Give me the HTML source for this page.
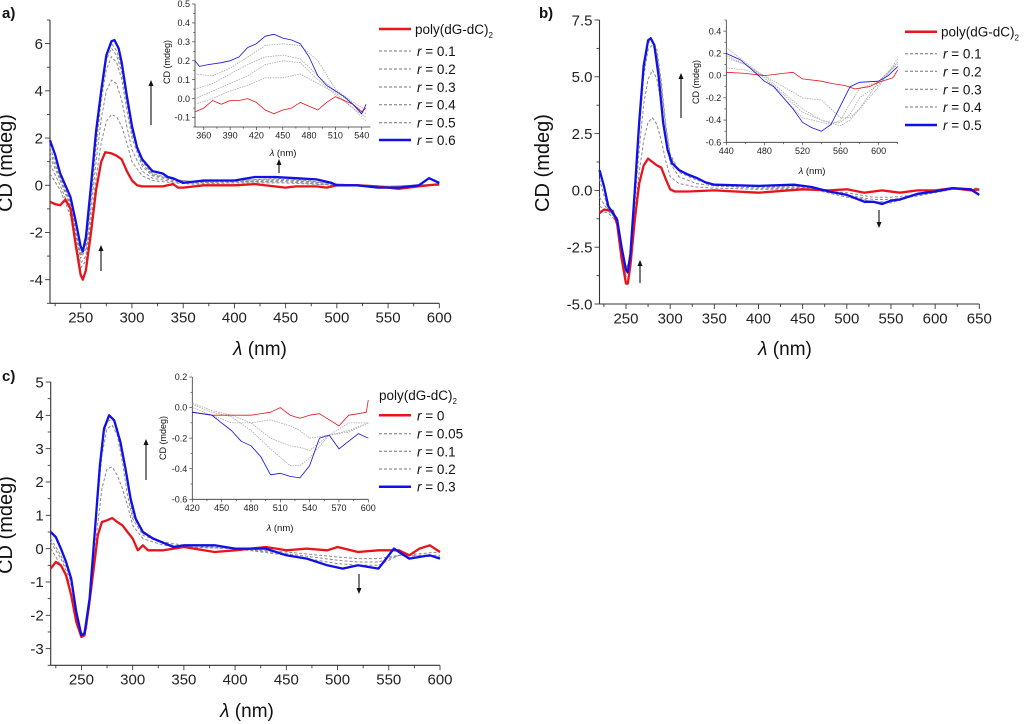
<!DOCTYPE html>
<html><head><meta charset="utf-8"><style>
html,body{margin:0;padding:0;background:#fff}
svg{display:block;font-family:"Liberation Sans",sans-serif}
</style></head><body>
<svg id="fig" width="1024" height="724" viewBox="0 0 1024 724" xmlns="http://www.w3.org/2000/svg"></svg>
<script>
// ===== Panel a data =====
const aRedWl=[220,225,230,235,240,245,250,252,255,260,265,270,274,280,285,290,295,300,305,310,330,340,345,350,370,400,420,450,460,480,490,500,520,540,560,580,600];
const aRedCd=[-0.7,-0.8,-0.85,-0.6,-1.0,-2.5,-3.8,-4.0,-3.6,-2.0,-0.2,1.0,1.4,1.35,1.25,1.1,0.6,0.2,0.0,-0.05,-0.05,0.05,-0.1,-0.1,0,0,0.05,-0.1,-0.05,-0.05,-0.1,0,0,-0.05,-0.15,-0.05,0.05];
const aBlueWl=[220,225,230,235,240,245,250,252,255,260,265,270,275,280,283,287,290,295,300,305,310,320,330,335,340,350,370,400,420,440,460,480,495,500,520,540,560,580,590,600];
const aBlueCd=[1.9,1.3,0.5,0.0,-0.5,-1.5,-2.6,-2.8,-2.2,0,2.3,4.0,5.5,6.1,6.15,5.8,5.2,3.8,2.5,1.6,1.1,0.6,0.5,0.35,0.3,0.1,0.2,0.2,0.35,0.35,0.3,0.25,0.1,0,0,-0.1,-0.1,0,0.3,0.1];
const aGrayWl=[220,230,240,245,250,255,260,265,270,275,280,285,290,295,300,310,320,340,360,400,450,500,550,600];
const aGray1=[0.5,-0.2,-1.3,-2.6,-3.5,-3.2,-1.5,0.3,1.8,2.7,3.0,2.9,2.5,1.8,1.0,0.4,0.2,0.1,0.05,0.1,0.1,0.0,-0.05,0.0];
const aGray2=[0.9,0.0,-1.1,-2.4,-3.3,-3.0,-1.0,1.0,2.8,4.0,4.45,4.3,3.6,2.5,1.5,0.6,0.3,0.15,0.1,0.15,0.15,0.0,-0.05,0.0];
const aGray3=[1.2,0.2,-0.9,-2.2,-3.1,-2.7,-0.6,1.6,3.6,4.9,5.45,5.2,4.5,3.2,2.0,0.8,0.4,0.2,0.1,0.15,0.2,0.05,-0.05,0.0];
const aGray4=[1.4,0.3,-0.8,-2.0,-3.0,-2.5,-0.3,2.0,3.9,5.3,5.8,5.5,4.8,3.5,2.2,0.9,0.45,0.25,0.15,0.2,0.25,0.05,-0.05,0.05];
const aGray5=[1.6,0.4,-0.7,-1.9,-2.9,-2.4,-0.2,2.2,4.0,5.5,6.0,5.7,5.0,3.6,2.3,1.0,0.5,0.25,0.15,0.2,0.3,0.05,-0.05,0.05];
const aInRedWl=[350,360,370,380,390,400,410,420,430,440,450,460,470,480,490,500,510,520,530,540,545];
const aInRedCd=[-0.07,-0.05,-0.01,-0.03,-0.01,-0.01,0.0,-0.02,-0.06,-0.08,-0.06,-0.05,-0.02,-0.04,-0.06,-0.02,0.01,-0.01,-0.03,-0.07,-0.05];
const aInBlueWl=[350,355,365,380,390,400,410,420,430,440,450,460,470,480,490,500,510,520,530,540,545];
const aInBlueCd=[0.2,0.17,0.18,0.19,0.2,0.22,0.27,0.29,0.33,0.34,0.32,0.31,0.29,0.22,0.12,0.07,0.04,0.01,-0.03,-0.08,-0.03];
const aInGrayWl=[350,370,390,410,430,450,470,490,510,530,545];
const aInGray1=[0.13,0.12,0.16,0.22,0.28,0.29,0.28,0.2,0.05,-0.02,-0.06];
const aInGray2=[0.05,0.08,0.13,0.18,0.22,0.23,0.21,0.12,0.04,-0.03,-0.08];
const aInGray3=[0.0,0.04,0.08,0.12,0.18,0.2,0.19,0.1,0.02,-0.05,-0.1];
const aInGray4=[-0.03,0.0,0.04,0.07,0.11,0.11,0.13,0.08,0.03,-0.05,-0.12];
const aLegend=["poly(dG-dC)","0.1","0.2","0.3","0.4","0.5","0.6"];

// ===== Panel b data =====
const bRedWl=[220,225,235,240,245,250,252,255,260,265,270,275,280,285,290,295,300,305,320,350,400,450,480,500,520,540,560,580,600,620,640,650];
const bRedCd=[-1.0,-0.85,-0.9,-1.5,-3.0,-4.1,-4.1,-3.3,-1.3,0.3,1.1,1.4,1.25,1.1,1.0,0.5,0.05,-0.05,-0.05,0,-0.1,0.05,0.0,0.05,-0.1,0.0,-0.1,0.0,0.0,0.1,0,0.05];
const bBlueWl=[220,225,230,237,240,245,250,252,255,260,265,270,275,278,282,287,292,297,302,310,320,330,340,350,400,440,460,480,500,520,530,540,550,560,580,600,620,640,650];
const bBlueCd=[0.9,0.2,-0.7,-1.1,-1.3,-2.5,-3.5,-3.6,-2.8,0.0,3.0,5.5,6.6,6.7,6.4,5.0,3.0,1.8,1.2,0.9,0.7,0.55,0.35,0.25,0.2,0.25,0.15,-0.05,-0.2,-0.5,-0.5,-0.6,-0.45,-0.4,-0.15,-0.05,0.1,0.05,-0.2];
const bGrayWl=[220,230,240,245,250,255,260,265,270,275,280,285,290,295,300,310,330,350,400,450,500,530,550,580,620,650];
const bGray1=[-0.9,-1.0,-1.4,-2.8,-3.8,-3.4,-1.0,0.8,2.2,3.0,3.2,2.9,2.2,1.3,0.6,0.3,0.15,0.1,0.05,0.05,-0.1,-0.3,-0.3,-0.2,0.05,0.1];
const bGray2=[-0.7,-0.9,-1.3,-2.7,-3.7,-3.2,-0.6,1.8,3.8,4.9,5.3,4.9,3.8,2.3,1.2,0.6,0.3,0.2,0.1,0.1,-0.2,-0.4,-0.4,-0.25,0.05,0.1];
const bGray3=[-0.3,-0.9,-1.2,-2.6,-3.6,-3.0,-0.3,2.6,5.0,6.2,6.4,6.0,4.6,2.8,1.5,0.8,0.45,0.25,0.15,0.15,-0.3,-0.5,-0.5,-0.2,0.05,0.05];
const bGray4=[0.5,-0.9,-1.2,-2.5,-3.5,-2.9,-0.1,2.9,5.3,6.5,6.6,6.2,4.8,2.9,1.6,0.85,0.5,0.25,0.2,0.2,-0.2,-0.5,-0.55,-0.2,0.05,0.0];
const bInRedWl=[440,460,480,500,510,520,540,550,565,575,590,600,615,620];
const bInRedCd=[0.03,0.02,0.0,0.02,0.03,-0.03,-0.05,-0.07,-0.09,-0.12,-0.1,-0.06,-0.02,0.05];
const bInBlueWl=[440,455,470,480,490,500,510,520,530,540,550,560,570,580,600,610,620];
const bInBlueCd=[0.2,0.14,0.03,-0.05,-0.1,-0.2,-0.3,-0.42,-0.47,-0.5,-0.44,-0.27,-0.1,-0.06,-0.05,0.0,0.08];
const bInGrayWl=[440,460,480,500,520,540,550,560,570,580,600,620];
const bInGray1=[0.07,0.05,0.0,-0.1,-0.2,-0.22,-0.3,-0.38,-0.38,-0.3,-0.1,0.15];
const bInGray2=[0.16,0.1,-0.02,-0.17,-0.33,-0.4,-0.42,-0.42,-0.35,-0.2,-0.08,0.12];
const bInGray3=[0.25,0.12,-0.02,-0.2,-0.38,-0.42,-0.44,-0.4,-0.25,-0.12,-0.05,0.1];
const bInGray4=[0.18,0.1,0.0,-0.15,-0.3,-0.4,-0.43,-0.45,-0.4,-0.3,-0.05,0.12];
const bLegend=["poly(dG-dC)","0.1","0.2","0.3","0.4","0.5"];

// ===== Panel c data =====
const cRedWl=[220,225,230,235,240,245,250,253,257,262,266,270,275,280,285,290,295,300,305,310,315,330,350,380,400,430,450,470,490,500,520,540,560,570,580,590,600];
const cRedCd=[-0.6,-0.4,-0.5,-0.8,-1.4,-2.2,-2.65,-2.6,-1.8,-0.6,0.4,0.8,0.85,0.92,0.8,0.7,0.5,0.3,-0.05,0.1,-0.05,-0.05,0.05,-0.1,-0.05,0.05,-0.05,0.0,-0.05,0.05,-0.1,-0.05,-0.05,-0.2,0.0,0.1,-0.1];
const cBlueWl=[220,225,230,235,240,245,250,253,258,263,268,272,277,282,288,293,298,303,310,320,340,350,380,400,430,450,470,490,505,520,540,555,570,590,600];
const cBlueCd=[0.5,0.35,0.0,-0.4,-0.9,-1.9,-2.6,-2.55,-1.5,0.5,2.5,3.6,4.0,3.85,3.2,2.4,1.5,0.9,0.5,0.3,0.05,0.1,0.1,0.0,0.0,-0.2,-0.3,-0.5,-0.6,-0.5,-0.6,0.0,-0.3,-0.2,-0.3];
const cGrayWl=[220,230,240,245,250,255,260,265,270,275,280,285,290,295,300,310,330,350,400,450,500,520,540,560,600];
const cGray1=[0.0,-0.5,-1.1,-2.0,-2.6,-2.4,-1.2,0.5,1.8,2.4,2.45,2.2,1.8,1.3,0.7,0.3,0.1,0.05,0.0,-0.1,-0.25,-0.3,-0.3,-0.2,-0.1];
const cGray2=[0.2,-0.3,-1.0,-1.9,-2.6,-2.4,-0.8,1.2,2.8,3.6,3.7,3.4,2.6,1.6,0.9,0.4,0.15,0.05,0.0,-0.15,-0.35,-0.4,-0.4,-0.2,-0.2];
const cGray3=[0.3,-0.2,-0.9,-1.9,-2.6,-2.4,-0.6,1.5,3.2,3.8,3.9,3.6,2.9,1.9,1.0,0.45,0.2,0.1,0.0,-0.2,-0.45,-0.5,-0.5,-0.2,-0.25];
const cInRedWl=[420,440,460,480,500,510,520,530,540,550,560,570,580,590,598,600];
const cInRedCd=[-0.03,-0.05,-0.05,-0.05,-0.03,0.0,-0.05,-0.07,-0.05,-0.04,-0.08,-0.12,-0.05,-0.04,-0.03,0.05];
const cInBlueWl=[420,440,450,460,470,480,490,500,510,520,530,540,550,560,570,580,590,600];
const cInBlueCd=[-0.03,-0.05,-0.1,-0.15,-0.22,-0.25,-0.32,-0.44,-0.43,-0.45,-0.46,-0.38,-0.2,-0.18,-0.27,-0.22,-0.17,-0.2];
const cInGrayWl=[420,440,460,480,500,520,530,540,560,580,600];
const cInGray1=[0.0,-0.05,-0.1,-0.1,-0.08,-0.12,-0.15,-0.2,-0.18,-0.1,-0.1];
const cInGray2=[0.03,-0.02,-0.05,-0.1,-0.2,-0.25,-0.26,-0.28,-0.18,-0.15,-0.1];
const cInGray3=[0.02,-0.03,-0.06,-0.15,-0.27,-0.38,-0.38,-0.33,-0.18,-0.16,-0.1];
const cLegend=["0","0.05","0.1","0.2","0.3"];

const NS="http://www.w3.org/2000/svg";
const svg=document.getElementById('fig');
function mk(tag,attrs,parent){const e=document.createElementNS(NS,tag);for(const k in attrs)e.setAttribute(k,attrs[k]);(parent||svg).appendChild(e);return e;}

function axes(g,o){
  const sx=v=>o.px0+(v-o.xmin)/(o.xmax-o.xmin)*(o.px1-o.px0);
  const sy=v=>o.py1-(v-o.ymin)/(o.ymax-o.ymin)*(o.py1-o.py0);
  const ax=mk('g',{},g);
  
  
  mk('line',{x1:o.px0,y1:o.py0,x2:o.px0,y2:o.py1,stroke:'#333','stroke-width':o.lw},ax);
  mk('line',{x1:o.px0,y1:o.py1,x2:o.px1,y2:o.py1,stroke:'#333','stroke-width':o.lw},ax);
  const xs=o.xlab0-Math.floor((o.xlab0-o.xmin)/o.xminor+1e-9)*o.xminor;
  for(let k=0;;k++){const v=xs+k*o.xminor;if(v>o.xmax+1e-9)break;const x=sx(v);const r=(v-o.xlab0)/o.xmajor;const major=Math.abs(r-Math.round(r))<1e-6;
    mk('line',{x1:x,y1:o.py1,x2:x,y2:o.py1+(major?o.tk:o.tk*0.6),stroke:'#333','stroke-width':o.lw*0.8},ax);
    if(major&&v>=o.xlab0-1e-9){const t=mk('text',{x:x,y:o.py1+o.tk+o.fs*0.95,'font-size':o.fs,'text-anchor':'middle',fill:'#222'},ax);t.textContent=Math.round(v);
      }}
  const ys=o.ylab0-Math.floor((o.ylab0-o.ymin)/o.yminor+1e-9)*o.yminor;
  for(let k=0;;k++){const v=ys+k*o.yminor;if(v>o.ymax+1e-9)break;const y=sy(v);const r=(v-o.ylab0)/o.ymajor;const major=Math.abs(r-Math.round(r))<1e-6;
    mk('line',{x1:o.px0,y1:y,x2:o.px0-(major?o.tk:o.tk*0.6),y2:y,stroke:'#333','stroke-width':o.lw*0.8},ax);
    if(major){const t=mk('text',{x:o.px0-o.tk-2,y:y+o.fs*0.35,'font-size':o.fs,'text-anchor':'end',fill:'#222'},ax);t.textContent=(Math.abs(v)<1e-9?0:v).toFixed(o.ydec);
      }}
  return {sx,sy};
}
function series(g,s,wl,cd,color,w,dash,name){
  let d='';for(let i=0;i<wl.length;i++)d+=(i?'L':'M')+s.sx(wl[i]).toFixed(1)+','+s.sy(cd[i]).toFixed(1);
  const p=mk('path',{d:d,fill:'none',stroke:color,'stroke-width':w,'stroke-linejoin':'round'},g);
  if(dash)p.setAttribute('stroke-dasharray',dash);
  
  
}
function txt(g,x,y,fs,s,anchor,extra){const t=mk('text',Object.assign({x:x,y:y,'font-size':fs,'text-anchor':anchor||'start',fill:'#111'},extra||{}),g);t.innerHTML=s;return t;}
function arrow(g,x,y1,y2,name){
  mk('line',{x1:x,y1:y1,x2:x,y2:y2+(y2<y1?4:-4),stroke:'#111','stroke-width':1.1},g);
  const dir=y2<y1?1:-1;
  const a=mk('polygon',{points:`${x},${y2} ${x-2.5},${y2+6*dir} ${x+2.5},${y2+6*dir}`,fill:'#111'},g);
  
  
}
function legend(g,x,ys,labels){
  for(let i=0;i<labels.length;i++){
    const y=ys[i];let col='#777',w=1,dash='3,2';
    if(i===0){col='#e8141b';w=2.5;dash=null;}
    if(i===labels.length-1){col='#1010e8';w=2.5;dash=null;}
    const e=mk('g',{},g);
    
    
    const l=mk('line',{x1:x,y1:y,x2:x+32,y2:y,stroke:col,'stroke-width':w},e);if(dash)l.setAttribute('stroke-dasharray',dash);
    const lab=labels[i];
    if(lab==='poly(dG-dC)')txt(e,x+36,y+5,13.5,'poly(dG-dC)<tspan font-size="8" dy="4">2</tspan>');
    else txt(e,x+38,y+5,13.5,'<tspan font-style="italic">r</tspan> = '+lab);
  }
}
function panelTitles(g,yx,yy,xx,xy,lab,lx,ly){
  const t=txt(g,yx,yy,20,'CD (mdeg)','middle',{transform:`rotate(-90 ${yx} ${yy})`});
  
  const x=txt(g,xx,xy,19,'<tspan font-style="italic">λ</tspan> (nm)','middle');
  
  const p=txt(g,lx,ly,15,lab,'start',{'font-weight':'bold'});
  
}
const RED='#e8141b',BLUE='#1010e8',GRAY='#8a8a8a',LGRAY='#aaa';

// ---------- Panel a ----------
{
const g=mk('g',{});
const s=axes(g,{name:'main-a',px0:50,px1:439.3,py0:20,py1:303.3,xmin:220,xmax:600,ymin:-5,ymax:7,xminor:25,xmajor:50,xlab0:250,yminor:1,ymajor:2,ylab0:-4,ydec:0,tk:5,fs:15,lw:1.1});
[aGray1,aGray2,aGray3,aGray4,aGray5].forEach(a=>series(g,s,aGrayWl,a,GRAY,1,'3,2','gray-series'));
series(g,s,aRedWl,aRedCd,RED,2.3,null,'red-series');
series(g,s,aBlueWl,aBlueCd,BLUE,2.3,null,'blue-series');
const si=axes(g,{name:'inset-a',px0:195,px1:370.5,py0:4,py1:127,xmin:350,xmax:550,ymin:-0.15,ymax:0.5,xminor:15,xmajor:30,xlab0:360,yminor:0.05,ymajor:0.1,ylab0:-0.1,ydec:1,tk:3,fs:9,lw:0.8});
[aInGray1,aInGray2,aInGray3,aInGray4].forEach(a=>series(g,si,aInGrayWl,a,LGRAY,0.8,'1.5,1','inset-gray-series'));
series(g,si,aInRedWl,aInRedCd,RED,0.8,null,'inset-red-series');
series(g,si,aInBlueWl,aInBlueCd,BLUE,0.8,null,'inset-blue-series');
txt(g,170,62,9,'CD (mdeg)','middle',{transform:'rotate(-90 170 62)'});
txt(g,283,156,9.5,'<tspan font-style="italic">λ</tspan> (nm)','middle');
legend(g,379,[29,51,69,87,104.7,122.7,140],aLegend);
arrow(g,101,271,245,'arrow-up');arrow(g,151,125,80,'arrow-up');arrow(g,279,173,159,'arrow-up');
panelTitles(g,12,163,260,355,'a)',2,18);
}
// ---------- Panel b ----------
{
const g=mk('g',{});
const s=axes(g,{name:'main-b',px0:599.5,px1:979.3,py0:20,py1:304,xmin:220,xmax:650,ymin:-5,ymax:7.5,xminor:25,xmajor:50,xlab0:250,yminor:1.25,ymajor:2.5,ylab0:-5,ydec:1,tk:5,fs:15,lw:1.1});
[bGray1,bGray2,bGray3,bGray4].forEach(a=>series(g,s,bGrayWl,a,GRAY,1,'3,2','gray-series'));
series(g,s,bRedWl,bRedCd,RED,2.3,null,'red-series');
series(g,s,bBlueWl,bBlueCd,BLUE,2.3,null,'blue-series');
const si=axes(g,{name:'inset-b',px0:726.3,px1:897.7,py0:20,py1:142.3,xmin:440,xmax:620,ymin:-0.6,ymax:0.5,xminor:20,xmajor:40,xlab0:440,yminor:0.1,ymajor:0.2,ylab0:-0.6,ydec:1,tk:3,fs:9,lw:0.8});
[bInGray1,bInGray2,bInGray3,bInGray4].forEach(a=>series(g,si,bInGrayWl,a,LGRAY,0.8,'1.5,1','inset-gray-series'));
series(g,si,bInRedWl,bInRedCd,RED,0.8,null,'inset-red-series');
series(g,si,bInBlueWl,bInBlueCd,BLUE,0.8,null,'inset-blue-series');
txt(g,699,82,9,'CD (mdeg)','middle',{transform:'rotate(-90 699 82)'});
txt(g,812,174,9.5,'<tspan font-style="italic">λ</tspan> (nm)','middle');
legend(g,905,[31.7,53.7,71.3,89.3,107,125],bLegend);
arrow(g,640,283,260,'arrow-up');arrow(g,681,118,73,'arrow-up');arrow(g,879,210,228,'arrow-down');
panelTitles(g,549,163,785,355,'b)',539,18);
}
// ---------- Panel c ----------
{
const g=mk('g',{});
const s=axes(g,{name:'main-c',px0:50.7,px1:440,py0:382,py1:665.3,xmin:220,xmax:600,ymin:-3.5,ymax:5,xminor:25,xmajor:50,xlab0:250,yminor:0.5,ymajor:1,ylab0:-3,ydec:0,tk:5,fs:15,lw:1.1});
[cGray1,cGray2,cGray3].forEach(a=>series(g,s,cGrayWl,a,GRAY,1,'3,2','gray-series'));
series(g,s,cRedWl,cRedCd,RED,2.3,null,'red-series');
series(g,s,cBlueWl,cBlueCd,BLUE,2.3,null,'blue-series');
const si=axes(g,{name:'inset-c',px0:192.3,px1:368.3,py0:377,py1:499.3,xmin:420,xmax:600,ymin:-0.6,ymax:0.2,xminor:15,xmajor:30,xlab0:420,yminor:0.1,ymajor:0.2,ylab0:-0.6,ydec:1,tk:3,fs:9,lw:0.8});
[cInGray1,cInGray2,cInGray3].forEach(a=>series(g,si,cInGrayWl,a,LGRAY,0.8,'1.5,1','inset-gray-series'));
series(g,si,cInRedWl,cInRedCd,RED,0.8,null,'inset-red-series');
series(g,si,cInBlueWl,cInBlueCd,BLUE,0.8,null,'inset-blue-series');
txt(g,166,438,9,'CD (mdeg)','middle',{transform:'rotate(-90 166 438)'});
txt(g,280,531,9.5,'<tspan font-style="italic">λ</tspan> (nm)','middle');
const lt=txt(g,379,400,13.5,'poly(dG-dC)<tspan font-size="8" dy="4">2</tspan>');

legend(g,379,[415.3,433.7,451.3,469,486.7],cLegend);
arrow(g,146,480,439,'arrow-up');arrow(g,359,574,594,'arrow-down');
panelTitles(g,12,525,247,717,'c)',2,381);
}
</script>
</body></html>
